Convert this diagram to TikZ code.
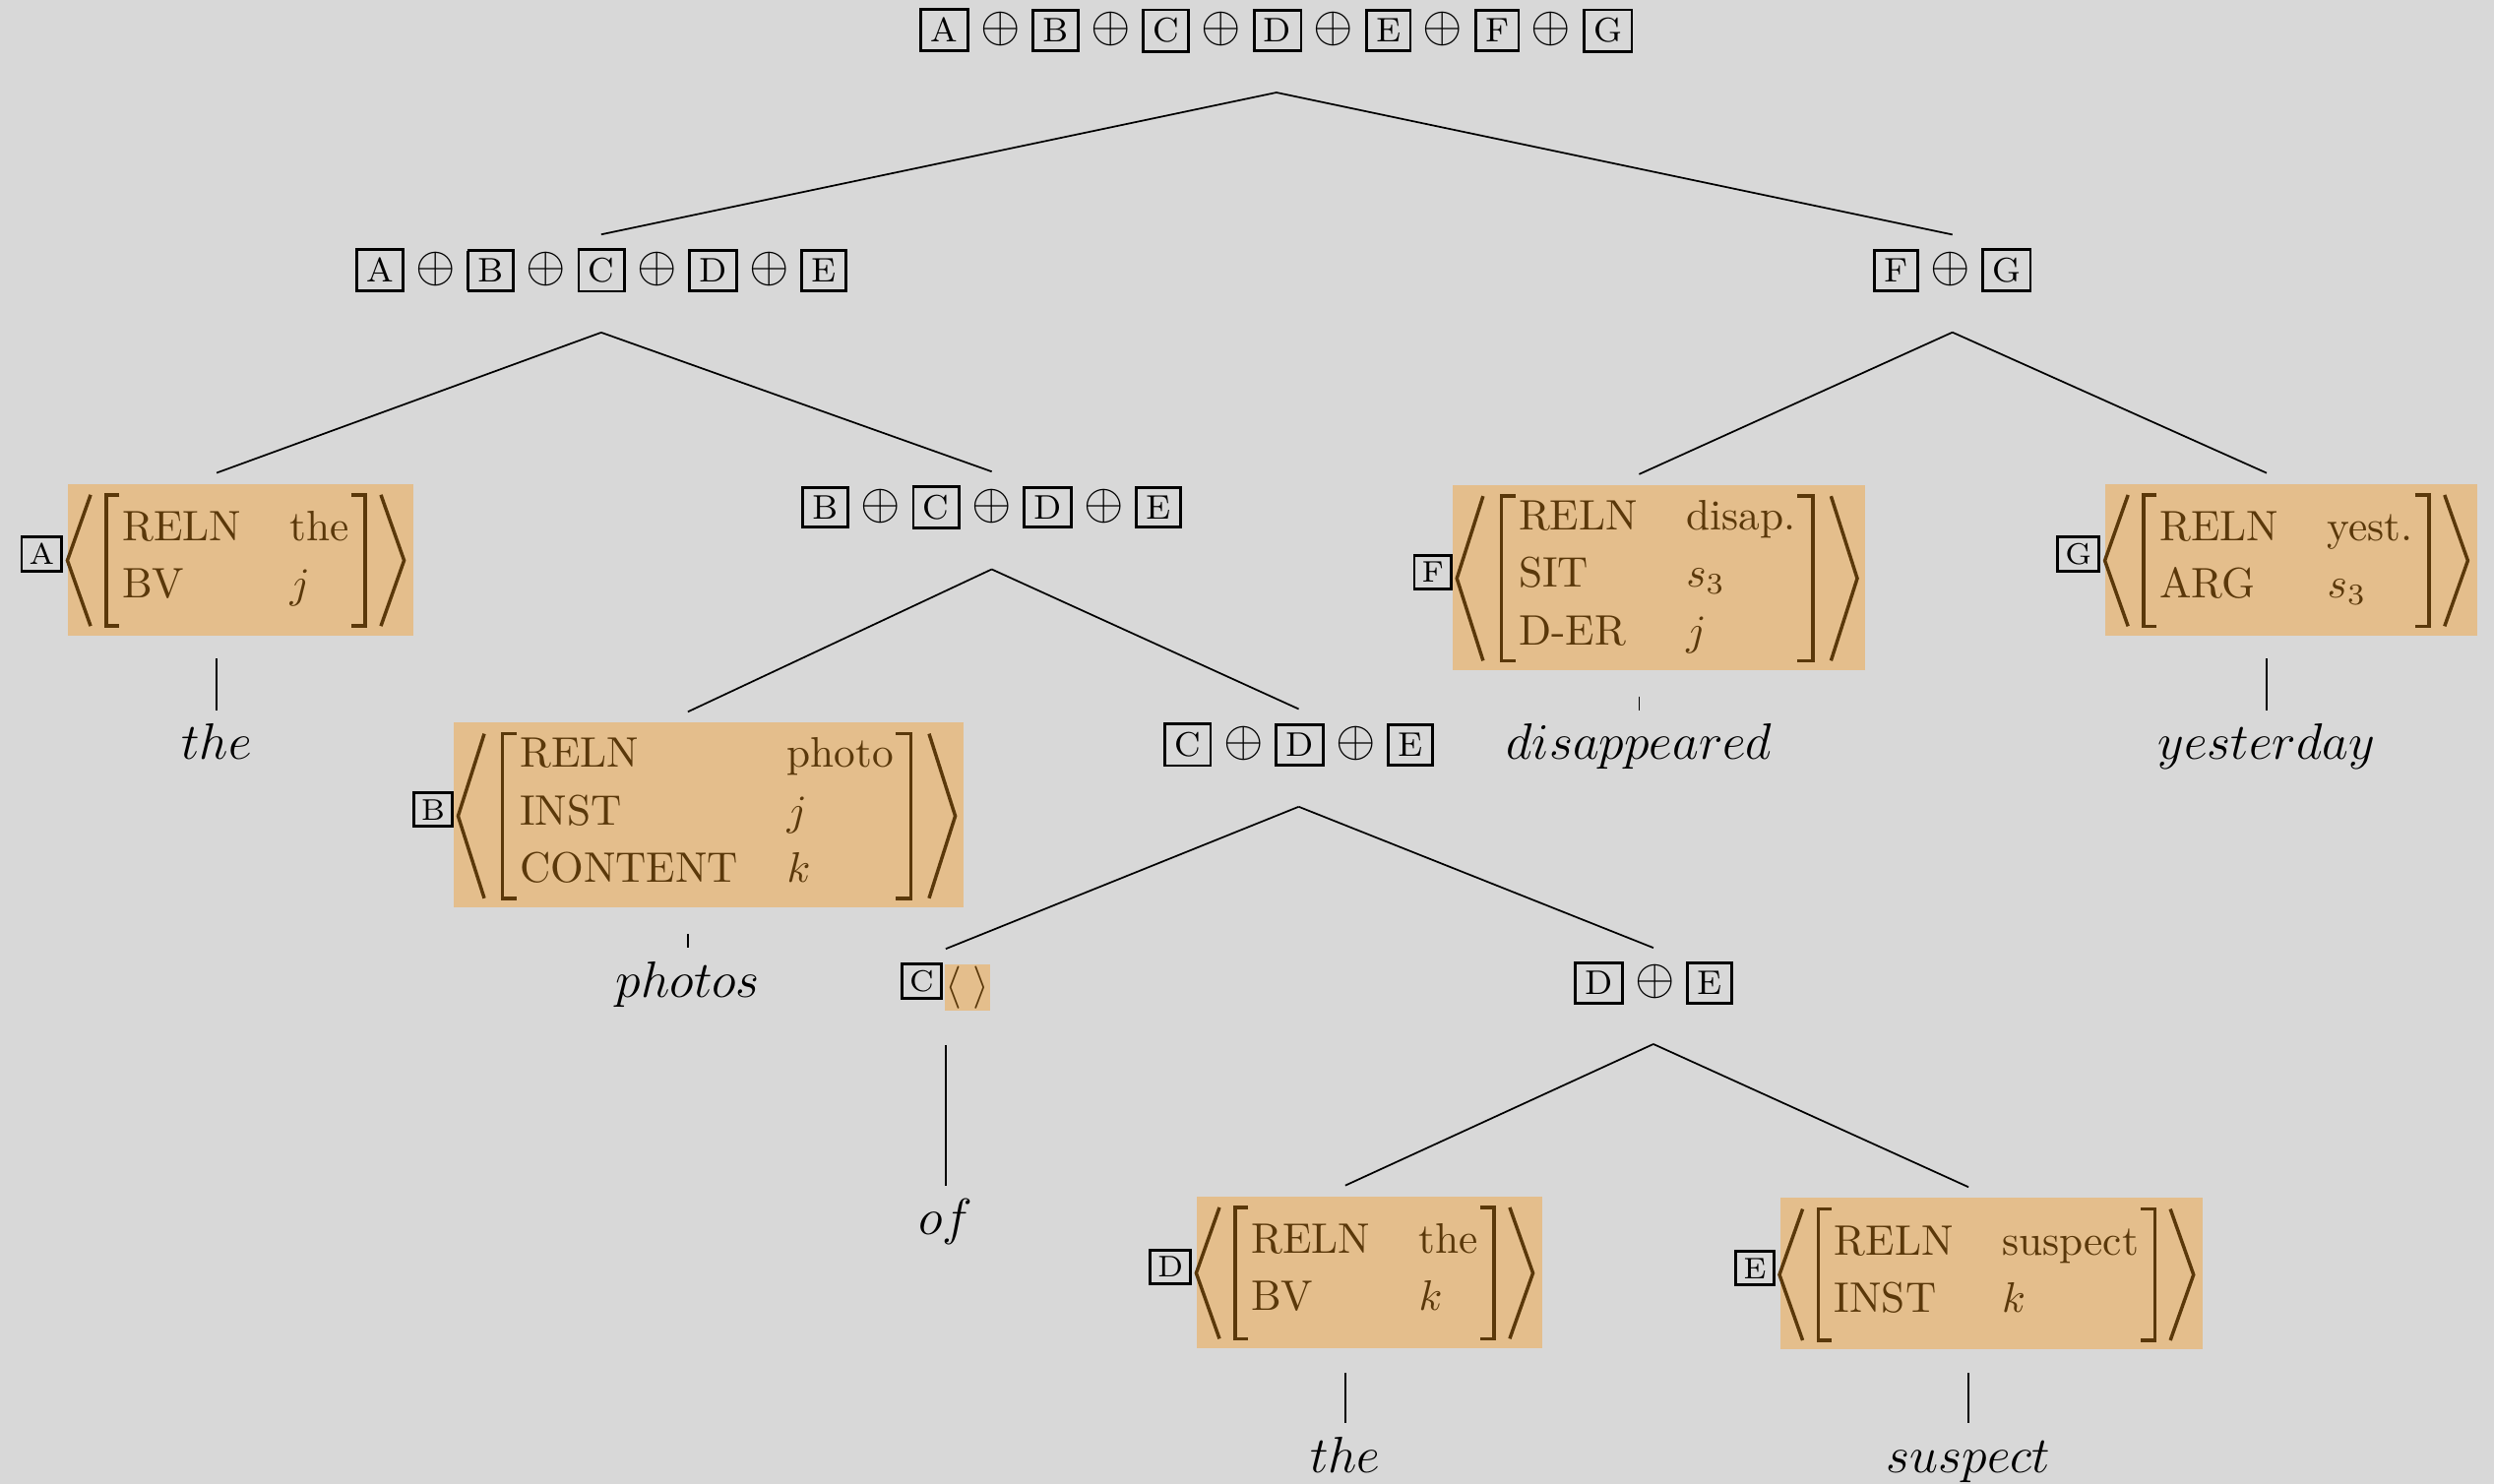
\documentclass[tikz,border=0pt]{standalone}
\usetikzlibrary{calc,fit,backgrounds}
\definecolor{bggray}{RGB}{216,216,216}
\definecolor{avmfill}{RGB}{228,190,140}
\definecolor{avmbrown}{RGB}{90,56,10}
\setlength{\fboxsep}{1.65pt}
\setlength{\fboxrule}{0.65pt}
\newcommand{\bx}[1]{\fbox{\footnotesize\kern0.3pt#1\kern0.3pt}}
\renewcommand{\arraystretch}{1.125}
\tikzset{
  lab/.style={font=\large, inner sep=0pt},
  word/.style={font=\large, inner sep=0pt, text height=8.5pt, text depth=2.4pt},
  avmtext/.style={text=avmbrown, inner sep=0pt},
  tagbox/.style={draw, line width=0.65pt, font=\scriptsize, inner xsep=1.75pt, inner ysep=1.55pt},
  avmbr/.style={draw=avmbrown, line width=0.8pt, line join=miter},
  conn/.style={draw=black, line width=0.4pt}
}
% #1 name, #2 tag letter, #3 x of fill centre, #4 y of bracket centre,
% #5 number of rows (2 or 3), #6 rows
\newcommand{\avmnode}[6]{%
  \ifnum#5=3
    \def\aoff{11.4pt}\def\ah{19.6pt}\def\aBr{3.9pt}\def\aAe{8.15pt}%
    \def\aAt{14.3pt}\def\aFl{15.3pt}\def\aFr{16.2pt}%
  \else
    \def\aoff{4.65pt}\def\ah{15.7pt}\def\aBr{3.6pt}\def\aAe{7.25pt}%
    \def\aAt{12.7pt}\def\aFl{12.5pt}\def\aFr{14.8pt}%
  \fi
  \node[avmtext, anchor=base] (#1t) at ($(#3,#4)+({-(\aFr-\aFl)/2},\aoff)$)
     {\begin{tabular}[t]{@{}l@{\hspace{11.4pt}}l@{}}#6\end{tabular}};
  \coordinate (#1L) at ($(#1t.base west)+(0,-\aoff)$);
  \coordinate (#1R) at ($(#1t.base east)+(0,-\aoff)$);
  \coordinate (#1NW) at ($(#1L)+(-\aFl,\ah+2.3pt)$);
  \coordinate (#1SE) at ($(#1R)+(\aFr,-\ah-1.9pt)$);
  \begin{scope}[on background layer]
    \fill[avmfill] (#1NW) rectangle (#1SE);
  \end{scope}
  \draw[avmbr] ($(#1L)+(-0.5pt,\ah-0.3pt)$) -- ($(#1L)+(-\aBr,\ah-0.3pt)$)
     -- ($(#1L)+(-\aBr,-\ah+0.3pt)$) -- ($(#1L)+(-0.5pt,-\ah+0.3pt)$);
  \draw[avmbr] ($(#1R)+(0.3pt,\ah-0.3pt)$) -- ($(#1R)+(\aBr,\ah-0.3pt)$)
     -- ($(#1R)+(\aBr,-\ah+0.3pt)$) -- ($(#1R)+(0.3pt,-\ah+0.3pt)$);
  \draw[avmbr] ($(#1L)+(-\aAe,\ah-0.3pt)$) -- ($(#1L)+(-\aAt,0pt)$)
     -- ($(#1L)+(-\aAe,-\ah+0.3pt)$);
  \draw[avmbr] ($(#1R)+(\aAe,\ah-0.3pt)$) -- ($(#1R)+(\aAt,0pt)$)
     -- ($(#1R)+(\aAe,-\ah+0.3pt)$);
  \node[tagbox, anchor=east] (#1tag) at ($(#1L)+({-\aAt-1.0pt},1.5pt)$) {#2};
  \node[fit=(#1tag)(#1NW)(#1SE), inner sep=0pt] (#1) {};
}
\begin{document}
\begin{tikzpicture}[x=0.3732pt, y=-0.3732pt]
\useasboundingbox (0,0) rectangle (1568,933);
\begin{scope}[on background layer]
  \fill[bggray] (0,0) rectangle (1568,933);
\end{scope}

% combination labels
\node[lab] (n0) at (802.5,19.1) {$\bx{A}\oplus\bx{B}\oplus\bx{C}\oplus\bx{D}\oplus\bx{E}\oplus\bx{F}\oplus\bx{G}$};
\node[lab] (n1) at (378,170) {$\bx{A}\oplus\bx{B}\oplus\bx{C}\oplus\bx{D}\oplus\bx{E}$};
\node[lab] (n2) at (1227.5,170) {$\bx{F}\oplus\bx{G}$};
\node[lab] (n3) at (623.5,319) {$\bx{B}\oplus\bx{C}\oplus\bx{D}\oplus\bx{E}$};
\node[lab] (n4) at (816.5,468.3) {$\bx{C}\oplus\bx{D}\oplus\bx{E}$};
\node[lab] (n5) at (1039.5,618) {$\bx{D}\oplus\bx{E}$};

% feature structures
\avmnode{A}{A}{151.3}{352.4}{2}{RELN & the\\ BV & $j$}
\avmnode{B}{B}{445.5}{513.1}{3}{RELN & photo\\ INST & $j$\\ CONTENT & $k$}
\avmnode{F}{F}{1043}{363.7}{3}{RELN & disap.\\ SIT & $s_3$\\ D-ER & $j$}
\avmnode{G}{G}{1440.5}{352.5}{2}{RELN & yest.\\ ARG & $s_3$}
\avmnode{D}{D}{861}{800.5}{2}{RELN & the\\ BV & $k$}
\avmnode{E}{E}{1252}{801.5}{2}{RELN & suspect\\ INST & $k$}

\node[fill=avmfill, text=avmbrown, inner xsep=0pt, inner ysep=0.4pt] (Cf) at (608.2,621) {$\langle\;\rangle$};
\node[tagbox, anchor=east] (Ctag) at ($(Cf.west)+(-0.3pt,1.5pt)$) {C};
\node[fit=(Ctag)(Cf), inner sep=0pt] (C) {};

% words
\node[word, anchor=base] (wA) at (A.south |- 0,477.5) {$the$};
\node[word, anchor=base] (wF) at (F.south |- 0,477.5) {$disappeared$};
\node[word, anchor=base] (wG) at (G.south |- 0,477.5) {$yesterday$};
\node[word, anchor=base] (wB) at (B.south |- 0,627) {$photos$};
\node[word, anchor=base] (wC) at (C.south |- 0,776.5) {$of$};
\node[word, anchor=base] (wD) at (D.south |- 0,926) {$the$};
\node[word, anchor=base] (wE) at (E.south |- 0,926) {$suspect$};

% tree connectors
\draw[conn] ($(n0.south)+(0,24.5)$) -- ($(n1.north)+(0,-8)$);
\draw[conn] ($(n0.south)+(0,24.5)$) -- ($(n2.north)+(0,-8)$);
\draw[conn] ($(n1.south)+(0,24.5)$) -- ($(A.north)+(0,-6.3)$);
\draw[conn] ($(n1.south)+(0,24.5)$) -- ($(n3.north)+(0,-8)$);
\draw[conn] ($(n2.south)+(0,24.5)$) -- ($(F.north)+(0,-6.3)$);
\draw[conn] ($(n2.south)+(0,24.5)$) -- ($(G.north)+(0,-6.3)$);
\draw[conn] ($(n3.south)+(0,24.5)$) -- ($(B.north)+(0,-6.3)$);
\draw[conn] ($(n3.south)+(0,24.5)$) -- ($(n4.north)+(0,-8)$);
\draw[conn] ($(n4.south)+(0,24.5)$) -- ($(C.north)+(0,-8)$);
\draw[conn] ($(n4.south)+(0,24.5)$) -- ($(n5.north)+(0,-8)$);
\draw[conn] ($(n5.south)+(0,24.5)$) -- ($(D.north)+(0,-6.3)$);
\draw[conn] ($(n5.south)+(0,24.5)$) -- ($(E.north)+(0,-6.3)$);

% word connectors
\draw[conn] ($(A.south)+(0,14)$) -- ($(wA.north)+(0,-7.7)$);
\draw[conn] ($(F.south)+(0,16)$) -- ($(wF.north)+(0,-7.7)$);
\draw[conn] ($(G.south)+(0,14)$) -- ($(wG.north)+(0,-7.7)$);
\draw[conn] ($(B.south)+(0,16)$) -- ($(wB.north)+(0,-7.7)$);
\draw[conn] ($(C.south)+(0,20.5)$) -- ($(wC.north)+(0,-7.7)$);
\draw[conn] ($(D.south)+(0,15.3)$) -- ($(wD.north)+(0,-7.7)$);
\draw[conn] ($(E.south)+(0,14.3)$) -- ($(wE.north)+(0,-7.7)$);
\end{tikzpicture}
\end{document}
